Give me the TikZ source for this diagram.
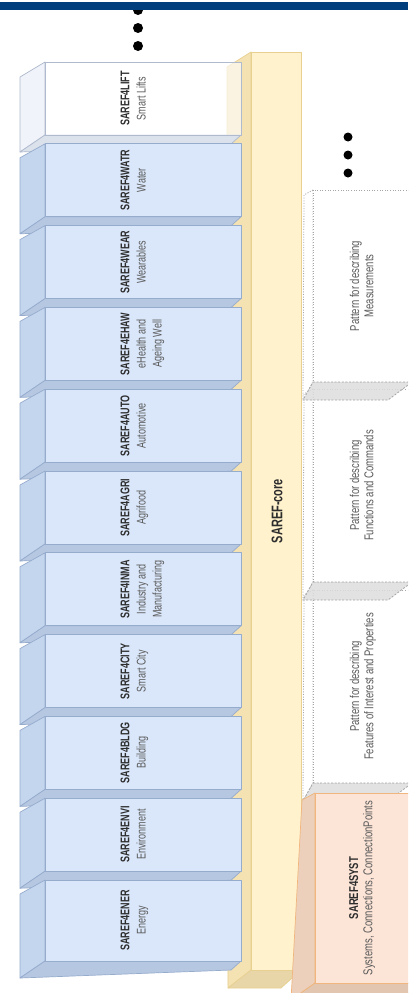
\documentclass[tikz,border=0pt]{standalone}
\usepackage{fontspec}
\setmainfont{Liberation Sans}
\usepackage{graphicx}
\definecolor{barblue}{RGB}{0,62,126}
\definecolor{bfront}{RGB}{218,231,250}
\definecolor{bline}{RGB}{150,172,205}
\definecolor{bside}{RGB}{196,213,238}
\definecolor{bbottom}{RGB}{182,199,225}
\definecolor{cfront}{RGB}{255,242,204}
\definecolor{cline}{RGB}{232,208,145}
\definecolor{cside}{RGB}{244,226,178}
\definecolor{cbottom}{RGB}{232,214,168}
\definecolor{sfront}{RGB}{252,228,214}
\definecolor{sline}{RGB}{240,182,125}
\definecolor{sside}{RGB}{236,208,188}
\definecolor{sbottom}{RGB}{226,198,175}
\definecolor{lline}{RGB}{175,186,206}
\definecolor{lside}{RGB}{240,243,249}
\definecolor{lbottom}{RGB}{220,226,236}
\definecolor{dline}{RGB}{165,165,165}
\definecolor{dbottom}{RGB}{222,222,222}
\definecolor{txt}{RGB}{45,45,45}
\definecolor{txtl}{RGB}{90,90,90}
\newcommand{\stx}[2]{\scalebox{1}[#1]{\begin{tabular}{@{}c@{}}#2\end{tabular}}}
\begin{document}
\begin{tikzpicture}[x=1pt,y=-1pt,line join=round,
  bluef/.style={fill=bfront,draw=bline,line width=0.7pt},
  blues/.style={fill=bside,draw=bline,line width=0.7pt},
  blueb/.style={fill=bbottom,draw=bline,line width=0.7pt},
  coref/.style={fill=cfront,draw=cline,line width=0.7pt},
  cores/.style={fill=cside,draw=cline,line width=0.7pt},
  coreb/.style={fill=cbottom,draw=cline,line width=0.7pt},
  dotf/.style={fill=white,draw=dline,line width=0.8pt,dash pattern=on 1pt off 1.6pt},
  dotb/.style={fill=dbottom,fill opacity=0.85,draw=dline,draw opacity=1,line width=0.8pt,dash pattern=on 2pt off 1.6pt},
  blktext/.style={rotate=90,anchor=north,inner sep=0pt,text=txtl,font=\fontsize{9}{11.5}\selectfont},
  pattext/.style={rotate=90,anchor=north,inner sep=0pt,text=txtl,font=\fontsize{9.5}{10.5}\selectfont},
  dotc/.style={fill=black}]
\useasboundingbox (0,0) rectangle (408,993);
\clip (0,0) rectangle (408,993);
\fill[white] (0,0) rectangle (408,993);
% core left face
\draw[cores] (251,52) -- (227,67) -- (228,988) -- (251,970) -- cycle;
% SAREF4LIFT (transparent)
\draw[fill=lside,draw=lline,line width=0.7pt] (45,62) -- (20,77) -- (20,152) -- (45,135) -- cycle;
\draw[fill=lbottom,draw=lline,line width=0.7pt] (45,135) -- (241,135) -- (231,144) -- (20,152) -- cycle;
\draw[fill=white,fill opacity=0.62,draw=lline,line width=0.7pt] (45,62) rectangle (241,135);
\node[blktext] (lift) at (118,98.5) {\stx{1.4}{\textcolor{txt}{\textbf{SAREF4LIFT}}\\Smart Lifts}};
% blue blocks
\foreach \i/\ttl/\sub in {1/SAREF4WATR/Water,2/SAREF4WEAR/Wearables,3/SAREF4EHAW/{eHealth and\\Ageing Well},4/SAREF4AUTO/Automotive,5/SAREF4AGRI/Agrifood,6/SAREF4INMA/{Industry and\\Manufacturing},7/SAREF4CITY/Smart City,8/SAREF4BLDG/Building,9/SAREF4ENVI/Environment,10/SAREF4ENER/Energy}{
  \pgfmathsetmacro{\tp}{62+81.8*\i}
  \pgfmathsetmacro{\bt}{\i==10 ? 961 : \tp+73}
  \pgfmathsetmacro{\mc}{(\tp+\bt)/2}
  \draw[blues] (45,\tp) -- (20,\tp+14) -- (20,\bt+17) -- (45,\bt) -- cycle;
  \draw[blueb] (45,\bt) -- (241,\bt) -- (231,\bt+9) -- (20,\bt+17) -- cycle;
  \draw[bluef] (45,\tp) rectangle (241,\bt);
  \node[blktext] (b\i) at (118,\mc) {\stx{1.4}{\textcolor{txt}{\textbf{\ttl}}\\\sub}};
}
% core bottom and front
\draw[coreb] (251,970) -- (301,970) -- (281,988) -- (228,988) -- cycle;
\draw[coref] (251,52) rectangle (301,970);
\node[rotate=90,inner sep=0pt,text=txt,font=\fontsize{11}{13}\selectfont\bfseries] (core) at (277,511) {\scalebox{1}[1.4]{SAREF-core}};
% dotted pattern boxes
\foreach \n/\tp/\bt in {m/190/382,f/389/582,p/590/783}{
  \draw[dotf] (313,\tp) -- (304,\tp+5) -- (303,\bt+18) -- (313,\bt) -- cycle;
  \draw[dotf] (313,\tp) rectangle (420,\bt);
}
\foreach \n/\tp/\bt in {m/190/382,f/389/582,p/590/783}{
  \draw[dotb] (313,\bt) -- (412,\bt) -- (388,\bt+18) -- (303,\bt+18) -- cycle;
}
\node[pattext] (pm) at (349,286) {\stx{1.35}{Pattern for describing\\Measurements}};
\node[pattext] (pf) at (349,485.5) {\stx{1.35}{Pattern for describing\\Functions and Commands}};
\node[pattext] (pp) at (349,686.5) {\stx{1.35}{Pattern for describing\\Features of Interest and Properties}};
% SAREF4SYST
\draw[fill=sside,draw=sline,line width=0.7pt] (315,793) -- (302,800) -- (291,1000) -- (315,983) -- cycle;
\draw[fill=sbottom,draw=sline,line width=0.7pt] (315,983) -- (420,983) -- (400,1000) -- (291,1000) -- cycle;
\draw[fill=sfront,draw=sline,line width=0.7pt] (315,793) rectangle (420,983);
\node[pattext] (syst) at (348,888) {\stx{1.35}{\textcolor{txt}{\textbf{SAREF4SYST}}\\Systems, Connections, ConnectionPoints}};
% ellipsis dots
\foreach \y in {10,28,46}{\fill[dotc] (138,\y) circle[radius=5pt];}
\foreach \y in {137,155,173}{\fill[dotc] (348,\y) circle[radius=4.5pt];}
% top bar
\fill[barblue] (0,2) rectangle (408,10);
\end{tikzpicture}
\end{document}
